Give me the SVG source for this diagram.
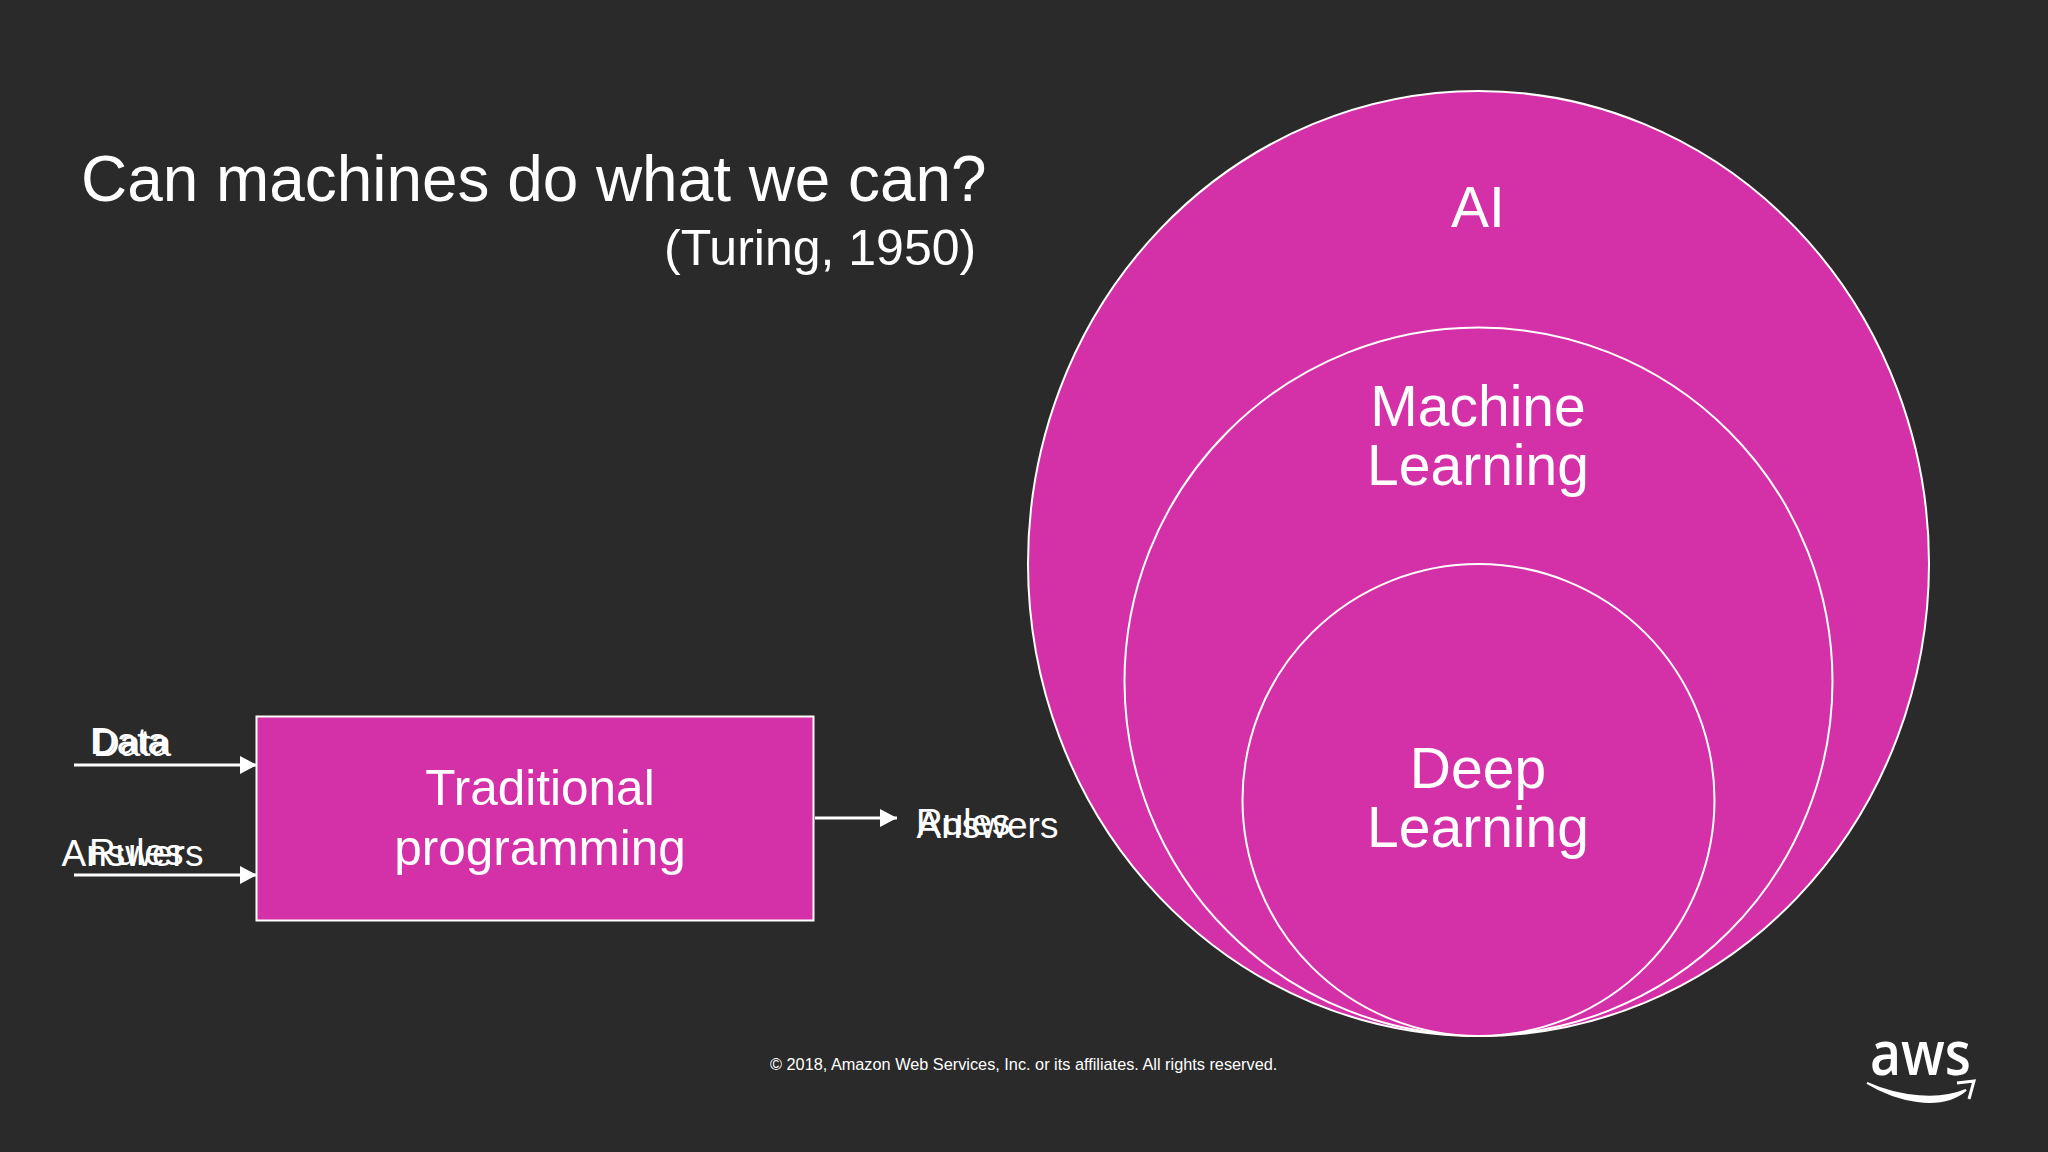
<svg xmlns="http://www.w3.org/2000/svg" width="2048" height="1152" viewBox="0 0 2048 1152">
<defs>
<style>
text{font-family:"Liberation Sans",Arial,sans-serif;fill:#fff}
.big{font-size:57px;text-anchor:middle}
.mid{font-size:49.5px;text-anchor:middle}
.lbl{font-size:37px}
.shape{fill:#d430a8;stroke:#fff;stroke-width:2}
.conn{stroke:#fff;stroke-width:3;fill:none;marker-end:url(#arrow)}
</style>
<marker id="arrow" markerUnits="userSpaceOnUse" markerWidth="18" markerHeight="18" refX="17" refY="9" orient="auto">
<path d="M0 0L17 9L0 18Z" fill="#fff"/>
</marker>
</defs>
<rect width="2048" height="1152" fill="#2a2a2a"/>
<g id="title">
<text x="81" y="201" font-size="63.9">Can machines do what we can?</text>
<text x="664" y="265" font-size="50">(Turing, 1950)</text>
</g>
<g id="ai"><ellipse class="shape" cx="1478.5" cy="563.5" rx="450.5" ry="472.5"/><text class="big" x="1478" y="227">AI</text></g>
<g id="ml"><circle class="shape" cx="1478.5" cy="681.5" r="354"/><text class="big"><tspan x="1478" y="426">Machine</tspan><tspan x="1478" y="485">Learning</tspan></text></g>
<g id="dl"><circle class="shape" cx="1478.5" cy="800" r="236"/><text class="big"><tspan x="1478" y="788">Deep</tspan><tspan x="1478" y="847">Learning</tspan></text></g>
<g id="traditional"><rect class="shape" x="256.5" y="716.5" width="557" height="204"/><text class="mid"><tspan x="540" y="805">Traditional</tspan><tspan x="540" y="865">programming</tspan></text></g>
<g id="connectors">
<path class="conn" d="M74 765H257"/>
<path class="conn" d="M74 875H257"/>
<path class="conn" d="M815 818H897"/>
</g>
<g id="labels">
<text class="lbl" x="90" y="754">Data</text>
<text class="lbl" x="93" y="756">Data</text>
<text class="lbl" x="61.5" y="866">Answers</text>
<text class="lbl" x="89" y="865">Rules</text>
<text class="lbl" x="916" y="835">Rules</text>
<text class="lbl" x="916.5" y="838">Answers</text>
</g>
<g id="footer"><text x="770" y="1070" font-size="16.3">© 2018, Amazon Web Services, Inc. or its affiliates. All rights reserved.</text></g>
<g id="aws-logo">
<text x="1870" y="1075" font-size="62" font-family="Open Sans" font-weight="600" textLength="101" lengthAdjust="spacingAndGlyphs" style="font-family:'Open Sans',sans-serif">aws</text>
<path d="M1867 1083C1895 1100 1940 1112 1966 1090C1940 1101 1900 1098 1867 1083Z" fill="#fff" stroke="#fff" stroke-width="2"/>
<path d="M1957 1083L1974 1081L1969 1099" fill="none" stroke="#fff" stroke-width="3"/>
</g>
</svg>
